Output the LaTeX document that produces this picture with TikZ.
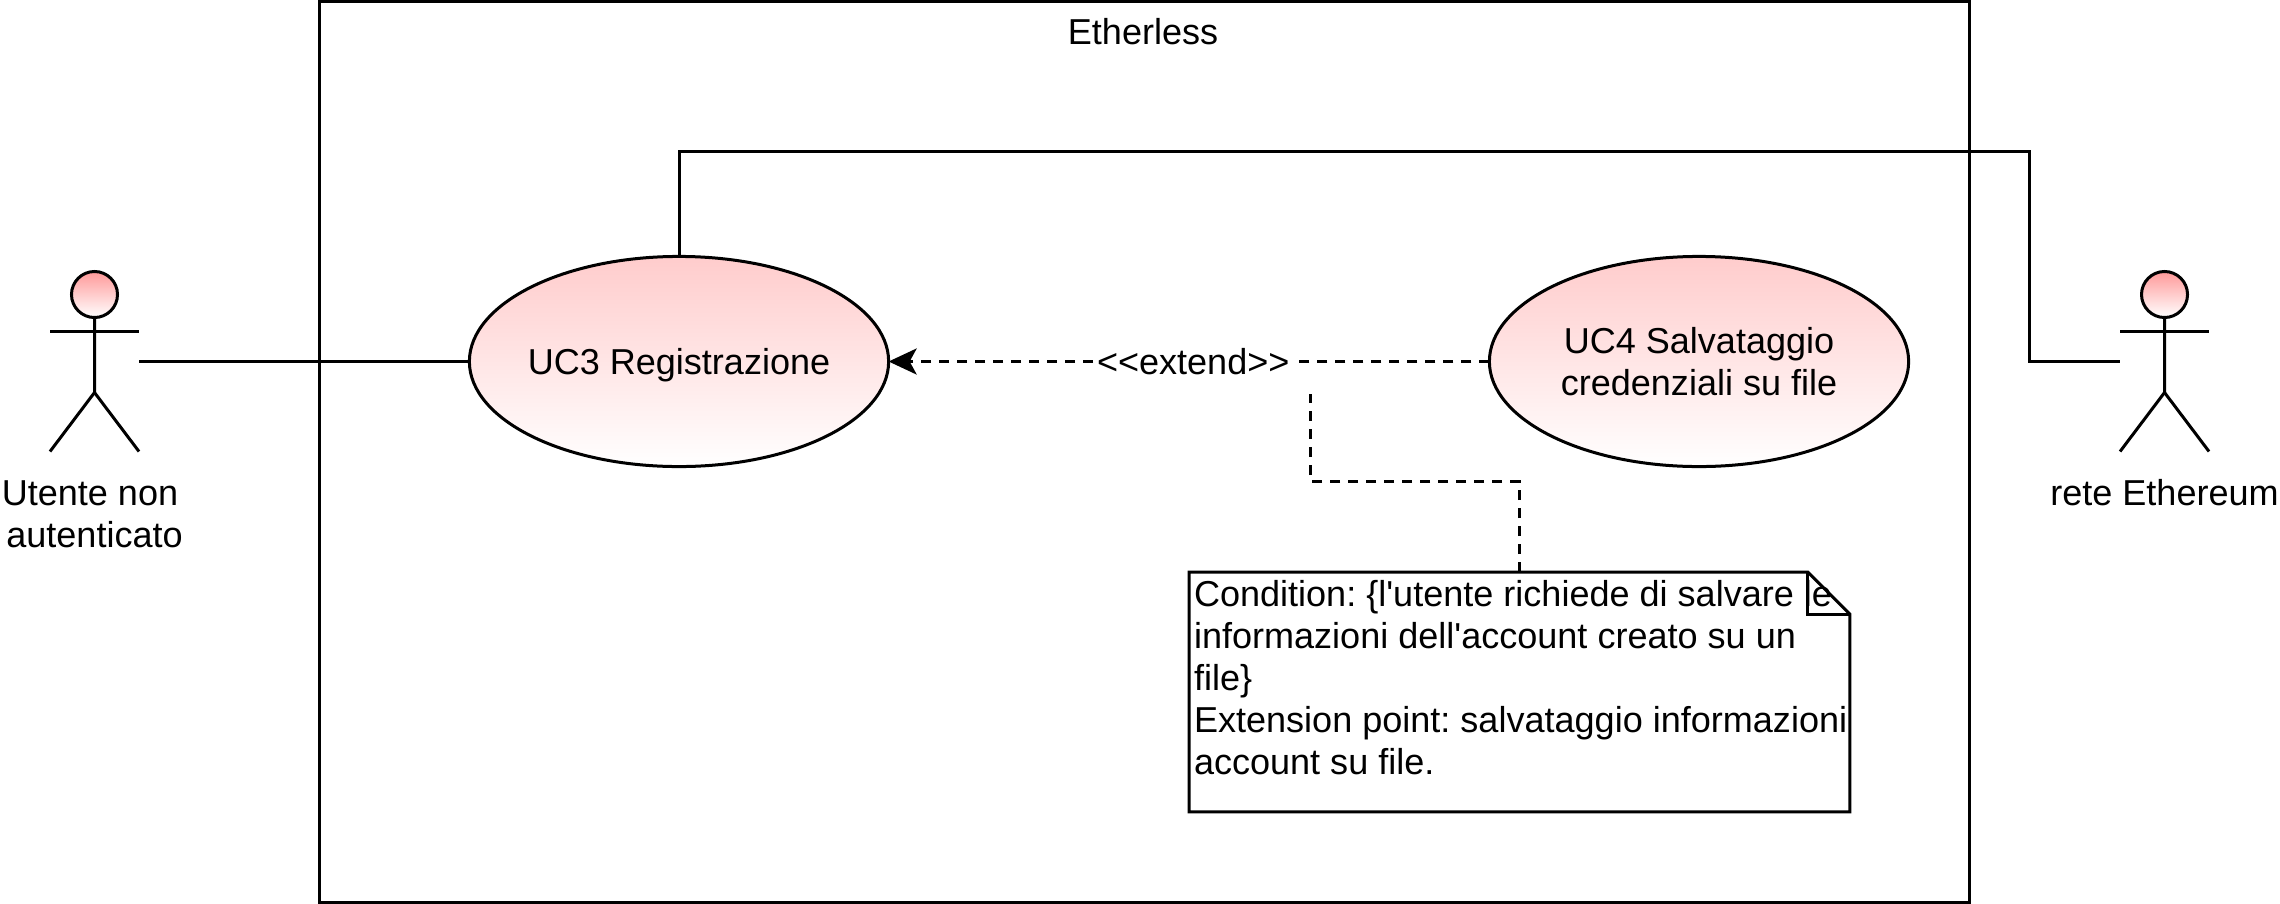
\documentclass[tikz,border=0pt]{standalone}
\usepackage{fontspec}
\usepackage{tikz}
\usetikzlibrary{arrows.meta, shapes.geometric}
\newfontfamily\diagramfont{Liberation Sans}

\begin{document}
\frenchspacing
\begin{tikzpicture}[x=0.01cm,y=-0.01cm,line width=0.03cm,>={Stealth[length=0.28cm,width=0.26cm,inset=0.07cm]},
                    every node/.style={font=\fontsize{10.25}{12}\selectfont\diagramfont,inner sep=0pt,outer sep=0pt}]
   \tikzstyle{usecase}=[ellipse,draw=black,top color=usecasepink,bottom color=white,align=center,
                        minimum width=4.19cm,minimum height=2.1cm,inner xsep=-0.2cm,text depth=0pt]
   \tikzstyle{head}=[circle,draw=black,top color=headpink,bottom color=white,minimum size=0.46cm]
   \tikzstyle{extendline}=[dash pattern=on 0.1cm off 0.08cm]
   \definecolor{usecasepink}{HTML}{FFCCCC}
   \definecolor{headpink}{HTML}{FF9999}

   \useasboundingbox (0,0) rectangle (2280,903);

   \node[draw=black,minimum width=16.49cm,minimum height=9.005cm] (system) at (1144.5,452) {};
   \node (systemname) at (1143,32) {Etherless};

   \node[usecase] (UC3) at (679,361.5) {UC3 Registrazione};
   \node[usecase] (UC4) at (1699,361.5) {UC4 Salvataggio\\credenziali su file};

   \foreach \side/\x in {L/94.5,R/2164.5} {
      \node[head] (head\side) at (\x,294.5) {};
      \draw (head\side.south) -- ++(0,75) coordinate (hip\side) -- ++(-44.5,59);
      \draw (hip\side) -- ++(44.5,59);
      \draw (head\side.south) ++(-44.5,14) -- ++(89,0);
   }
   \node[align=center] (actorL) at (94.5,514) {Utente non\hspace*{0.09cm}\\autenticato};
   \node (actorR) at (2164.5,492.5) {rete Ethereum};
   \coordinate (handL) at (139,361.5);
   \coordinate (handR) at (2120,361.5);
   \coordinate (bendA) at (679,151.5);
   \coordinate (bendB) at (2029.5,151.5);
   \coordinate (bendC) at (2029.5,361.5);

   \draw (handL) -- (UC3);
   \draw (UC3.north) -- (bendA) -- (bendB) -- (bendC) -- (handR);

   \path[->,extendline] (UC4) edge node[pos=0.493,fill=white,inner xsep=0.03cm,minimum height=0.4cm] (extendname) {<<extend>>} (UC3);

   \node[minimum width=6.605cm,minimum height=2.395cm] (note) at (1519.5,692) {};
   \draw (note.north west) -- ([xshift=-0.42cm]note.north east) -- ([yshift=-0.42cm]note.north east)
         -- (note.south east) -- (note.south west) -- cycle;
   \draw ([xshift=-0.42cm]note.north east) -- ([xshift=-0.42cm,yshift=-0.42cm]note.north east)
         -- ([yshift=-0.42cm]note.north east);
   \node[anchor=north west,align=left] (notetext) at (1194,580) {Condition: \{l'utente richiede di salvare le\\
      informazioni dell'account creato su un\\file\}\\Extension point: salvataggio informazioni\\account su file.};

   \coordinate (noteA) at (1310.5,394);
   \coordinate (noteB) at (1310.5,481.5);
   \coordinate (noteC) at (1519.5,481.5);
   \draw[extendline] (note.north) -- (noteC) -- (noteB) -- (noteA);
\end{tikzpicture}
\end{document}
